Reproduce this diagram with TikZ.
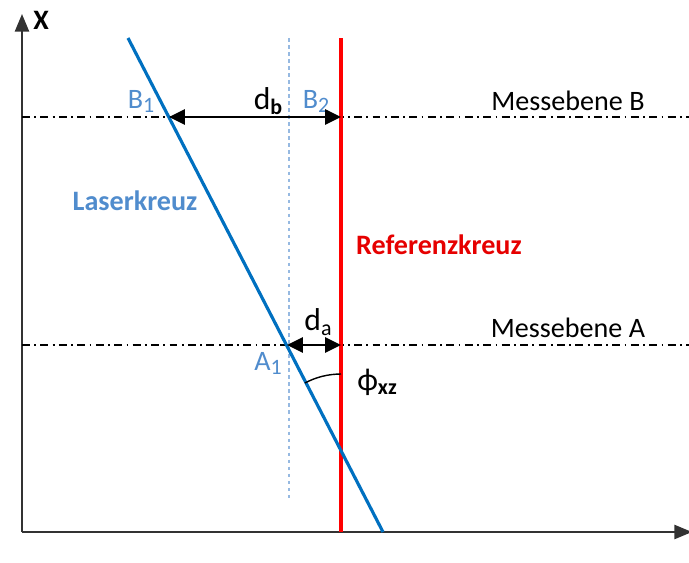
\documentclass[tikz,border=0pt]{standalone}
\usepackage{fontspec}
\setmainfont{Carlito}
\usetikzlibrary{arrows.meta,calc}
\definecolor{laserblue}{RGB}{0,112,192}
\definecolor{textblue}{RGB}{80,140,205}
\definecolor{dotblue}{RGB}{150,185,225}
\definecolor{refred}{RGB}{255,0,0}
\definecolor{textred}{RGB}{230,0,0}
\definecolor{axisgray}{RGB}{50,50,50}
\newcommand{\lowsub}[1]{\raisebox{-0.3ex}{\fontsize{12.5}{14}\selectfont #1}}
\tikzset{
    % Axes
    axis/.style={
        -{Triangle[length=10pt,width=8pt]},
        line width=1.2pt,
        draw=axisgray
    },
    % Lines
    laserline/.style={
        line width=1.8pt,
        draw=laserblue
    },
    refline/.style={
        line width=1.8pt,
        draw=refred
    },
    helpline/.style={
        line width=0.6pt,
        draw=dotblue,
        dash pattern=on 2pt off 2pt
    },
    planeline/.style={
        line width=0.8pt,
        draw=black,
        dash pattern=on 4.5pt off 2.5pt on 1pt off 2.5pt
    },
    % Arrows
    distarrow/.style={
        {Triangle[length=9pt,width=8.5pt]}-{Triangle[length=9pt,width=8.5pt]},
        line width=1.6pt,
        draw=black
    },
    anglearc/.style={
        line width=0.8pt,
        draw=black
    },
    % Labels
    lbl/.style={
        font=\fontsize{16}{19}\selectfont,
        inner sep=0pt
    },
    bluelbl/.style={
        lbl,
        text=textblue
    }
}
\begin{document}
\begin{tikzpicture}[x=0.02cm, y=-0.02cm]

    \useasboundingbox (0,0) rectangle (689,562);

    % Axes
    \coordinate (origin) at (22,532);
    \coordinate (xtop) at (22,14);
    \coordinate (zend) at (692,532);
    \draw[axis] (origin) -- (xtop);
    \draw[axis] (origin) -- (zend);
    \node[lbl, font=\fontsize{16}{19}\selectfont\bfseries] (xlabel) at (41,20) {X};

    % Measuring planes
    \coordinate (planeBl) at (22,117);
    \coordinate (planeBr) at (689,117);
    \coordinate (planeAl) at (22,345);
    \coordinate (planeAr) at (689,345);
    \draw[planeline] (planeBl) -- (planeBr);
    \draw[planeline] (planeAl) -- (planeAr);
    \node[lbl] (messB) at (568,101) {Messebene B};
    \node[lbl] (messA) at (568,328) {Messebene A};

    % Helper line and reference cross
    \coordinate (helptop) at (289,38);
    \coordinate (helpbot) at (289,500);
    \draw[helpline] (helptop) -- (helpbot);
    \coordinate (reftop) at (341,38);
    \coordinate (refbot) at (341,532);
    \draw[refline] (reftop) -- (refbot);
    \node[lbl, font=\fontsize{16}{19}\selectfont\bfseries, text=textred] (reflabel) at (439,245) {Referenzkreuz};

    % Laser cross
    \coordinate (lasertop) at (128,38);
    \coordinate (laserbot) at (383,532);
    \draw[laserline] (lasertop) -- (laserbot);
    \node[bluelbl, font=\fontsize{16}{19}\selectfont\bfseries] (laserlabel) at (135,201) {Laserkreuz};

    % Points
    \coordinate (B1) at (169,117);
    \coordinate (B2) at (341,117);
    \coordinate (A1) at (287,345);
    \coordinate (A2) at (341,345);
    \node[bluelbl] (b1label) at (141,101) {B\lowsub{1}};
    \node[bluelbl] (b2label) at (316,101) {B\lowsub{2}};
    \node[bluelbl] (a1label) at (268,363) {A\lowsub{1}};

    % Distances
    \draw[distarrow] (B1) -- (B2);
    \draw[distarrow] (A1) -- (A2);
    \node[lbl, font=\fontsize{18}{21}\selectfont] (dblabel) at (268,101) {d\lowsub{\bfseries b}};
    \node[lbl, font=\fontsize{18}{21}\selectfont] (dalabel) at (318,322) {d\lowsub{a}};

    % Angle
    \coordinate (cross) at (341,451);
    \coordinate (arcstart) at (341,374);
    \draw[anglearc] (arcstart) arc[start angle=90, end angle=118, radius=1.54cm];
    \node[lbl, font=\fontsize{18}{21}\selectfont] (philabel) at (377,382) {ϕ\lowsub{\bfseries xz}};

\end{tikzpicture}
\end{document}
